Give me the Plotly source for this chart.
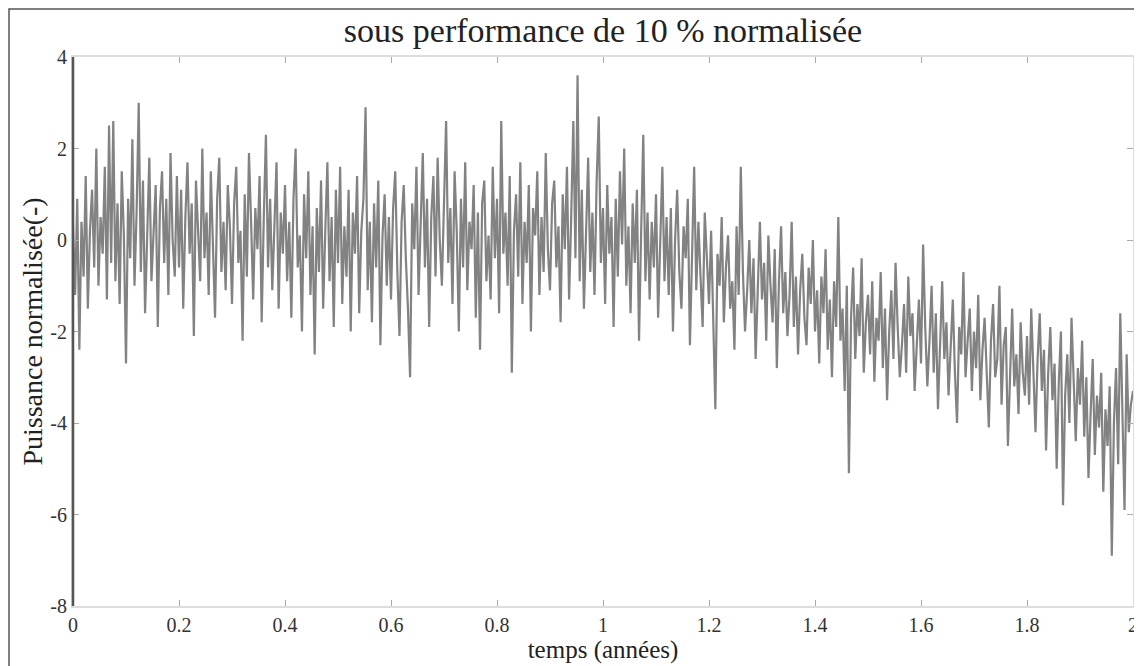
import numpy as np
import plotly.graph_objects as go

# Signal (normalised power), 25 samples per 0.1 year
values = [
    # 0.0 - 0.1
    0.3, -1.2, 0.9, -2.4, 0.4, -0.8, 1.4, -1.5, 0.2, 1.1, -0.6, 2.0, -1.0, 0.5, -0.3, 1.6, -1.3, 2.5, -0.5, 2.6, -0.9, 0.8, -1.4, 1.5, 0.1,
    # 0.1 - 0.2
    -2.7, 0.9, -0.4, 2.2, -1.0, 0.6, 3.0, -0.7, 1.3, -1.6, 0.4, 1.8, -0.9, 0.2, 1.2, -1.9, 0.7, 1.5, -0.5, 0.9, -1.2, 1.9, 0.0, -0.8, 1.4,
    # 0.2 - 0.3
    -0.6, 1.1, -1.5, 0.5, 1.7, -0.3, 0.8, -2.1, 1.3, 0.2, -0.9, 2.0, -0.4, 0.6, -1.2, 1.5, 0.1, -1.7, 0.9, 1.8, -0.7, 0.4, -1.1, 1.2, 0.3,
    # 0.3 - 0.4
    -1.4, 0.8, 1.6, -0.5, 0.2, -2.2, 1.0, -0.8, 1.9, 0.4, -1.3, 0.7, -0.2, 1.4, -1.8, 0.5, 2.3, -0.6, 0.9, -1.1, 0.3, 1.7, -1.5, 0.6, -0.3,
    # 0.4 - 0.5
    1.2, -0.9, 0.4, -1.7, 0.9, 2.0, -0.6, 0.1, -2.0, 1.0, -0.4, 1.5, -1.2, 0.3, -2.5, 0.7, -0.7, 1.3, -1.5, 0.2, 1.7, -0.9, 0.5, -1.9, 1.1,
    # 0.5 - 0.6
    -0.5, 1.6, -1.4, 0.3, -0.8, 1.1, -2.0, 0.6, -0.3, 1.4, -1.6, 0.2, 0.9, 2.9, -1.1, 0.4, -1.8, 0.8, -0.6, 1.3, -2.3, 0.1, 1.0, -1.0, 0.5,
    # 0.6 - 0.7
    -1.3, 0.7, 1.5, -0.7, -2.1, 0.4, 1.2, -0.4, -1.5, -3.0, 0.8, -0.2, 1.6, -1.2, 0.3, 1.9, -0.6, 0.9, -1.9, 0.5, 1.4, -0.8, 1.8, 0.0, -1.0,
    # 0.7 - 0.8
    1.1, 2.6, -0.5, 0.7, -1.4, 1.5, 0.2, -2.0, 0.9, -0.6, 1.7, -1.1, 0.4, -0.2, 1.2, -1.7, 0.6, -2.4, 0.8, 1.3, -0.9, 0.1, -1.3, 1.6, -0.4,
    # 0.8 - 0.9
    0.9, -1.6, 2.6, -0.3, 0.6, -1.0, 1.4, -2.9, 0.2, 1.0, -0.8, 1.7, -1.4, 0.4, -0.5, 1.2, -2.0, 0.7, 0.1, 1.5, -1.2, 0.5, -0.7, 1.9, -0.2,
    # 0.9 - 1.0
    -1.1, 0.8, 1.3, -0.6, 0.3, -1.8, 1.0, -0.2, 1.6, -1.3, 0.5, 2.6, -0.4, 3.6, -0.9, 1.1, -1.5, 0.4, 1.8, -0.7, 0.6, -1.2, 1.3, 2.7, -0.5,
    # 1.0 - 1.1
    0.7, -1.4, 1.2, -0.3, 0.5, -1.9, 0.9, -0.8, 1.5, -0.1, 2.0, -1.0, 0.3, -1.6, 0.8, -0.5, 1.1, -2.2, 0.2, 2.3, -0.9, 0.6, -1.3, 0.4, -0.6,
    # 1.1 - 1.2
    1.0, -1.7, 0.2, 1.6, -0.9, 0.5, -1.2, 0.7, -2.0, 0.0, 1.1, -0.7, -1.5, 0.3, -0.4, 0.9, -2.3, -0.2, 1.6, -1.1, 0.4, -0.8, -1.9, 0.6, -0.5,
    # 1.2 - 1.3
    -1.4, 0.2, -2.1, -3.7, -0.3, -1.0, 0.5, -1.8, -0.6, 0.1, -1.5, -0.9, -2.4, 0.3, -1.2, 1.6, -0.7, -2.0, -1.1, 0.0, -1.6, -0.4, -2.6, -0.8, 0.4,
    # 1.3 - 1.4
    -1.3, -0.5, -2.2, 0.1, -1.0, -1.8, -0.2, -2.8, -0.9, 0.3, -1.6, -0.7, -2.1, -1.2, 0.4, -1.9, -0.8, -2.5, -1.1, -0.3, -1.7, -2.3, -0.6, -1.4, 0.0,
    # 1.4 - 1.5
    -2.0, -1.1, -2.7, -0.8, -1.6, -0.2, -2.4, -1.3, -3.0, -0.9, -1.9, 0.5, -2.2, -1.5, -3.3, -1.0, -5.1, -1.7, -0.6, -2.6, -1.4, -2.1, -0.4, -2.9, -1.8,
    # 1.5 - 1.6
    -1.2, -2.5, -0.9, -3.1, -1.7, -2.2, -0.7, -2.8, -1.5, -3.5, -2.0, -1.1, -2.6, -0.5, -1.9, -3.0, -2.3, -1.4, -2.9, -0.8, -2.1, -1.6, -3.3, -2.4, -1.3,
    # 1.6 - 1.7
    -2.7, -0.1, -1.9, -3.2, -2.2, -1.0, -2.9, -1.6, -3.7, -2.1, -0.9, -2.6, -1.8, -3.4, -2.4, -1.3, -2.9, -4.0, -1.9, -2.5, -0.7, -3.0, -2.2, -1.5, -3.3,
    # 1.7 - 1.8
    -2.0, -2.8, -1.2, -3.5, -2.4, -1.7, -3.1, -4.1, -2.2, -1.4, -3.0, -2.6, -1.0, -3.6, -2.3, -1.9, -4.5, -2.8, -1.5, -3.2, -2.5, -3.8, -1.8, -2.9, -3.4,
    # 1.8 - 1.9
    -2.1, -3.6, -1.5, -3.0, -4.2, -2.6, -1.6, -3.3, -2.4, -4.6, -2.9, -1.9, -3.5, -2.7, -5.0, -3.1, -2.0, -5.8, -3.4, -2.5, -4.0, -1.7, -3.2, -4.4, -2.8,
    # 1.9 - 2.0
    -3.6, -2.2, -4.3, -3.0, -5.2, -3.8, -2.6, -4.7, -3.4, -4.1, -2.9, -5.5, -3.7, -4.5, -3.2, -6.9, -4.0, -2.8, -4.9, -1.6, -3.5, -5.9, -2.5, -4.2, -3.6,
    -3.3,
]
t_start, t_end = 0.0, 2.0
time = np.linspace(t_start, t_end, len(values))

x_ticks = [0, 0.2, 0.4, 0.6, 0.8, 1.0, 1.2, 1.4, 1.6, 1.8, 2.0]
x_ticktext = ["0", "0.2", "0.4", "0.6", "0.8", "1", "1.2", "1.4", "1.6", "1.8", "2"]
y_ticks = [-8, -6, -4, -2, 0, 2, 4]
y_ticktext = ["-8", "-6", "-4", "-2", "0", "2", "4"]

title_text = "sous performance de 10 % normalisée"
x_label = "temps (années)"
y_label = "Puissance normalisée(-)"

FONT = "Liberation Serif"

fig = go.Figure()
fig.add_trace(go.Scatter(
    x=time, y=values, mode="lines",
    line=dict(color="#828282", width=2.2),
    showlegend=False, hoverinfo="skip",
))

# the page body adds an 8 px offset, so the figure is sized to fit the window
W, H = 1134, 658
ml, mr, mt, mb = 65, 9, 49, 60
pw, ph = W - ml - mr, H - mt - mb

fig.update_layout(
    width=W, height=H,
    margin=dict(l=ml, r=mr, t=mt, b=mb, autoexpand=False),
    paper_bgcolor="white", plot_bgcolor="white",
    font=dict(family=FONT, color="#222"),
    title=dict(text=title_text, x=0.5, xref="paper", y=1 - 22 / H, yref="container",
               xanchor="center", yanchor="middle", font=dict(size=34, family=FONT, color="#222")),
    xaxis=dict(range=[0, 2], tickvals=x_ticks, ticktext=x_ticktext,
               ticks="inside", ticklen=6, tickcolor="#aaa", tickwidth=1,
               showline=True, linecolor="#ddd", linewidth=2, mirror="ticks",
               showgrid=False, zeroline=False, automargin=False,
               tickfont=dict(size=20, family=FONT, color="#333"),
               title=dict(text=x_label, font=dict(size=25, family=FONT, color="#222"), standoff=0)),
    yaxis=dict(range=[-8, 4], tickvals=y_ticks, ticktext=y_ticktext,
               ticks="inside", ticklen=6, tickcolor="#aaa", tickwidth=1,
               showline=True, linecolor="#ddd", linewidth=2, mirror="ticks",
               showgrid=False, zeroline=False, automargin=False,
               tickfont=dict(size=20, family=FONT, color="#333"),
               title=dict(text=y_label, font=dict(size=28, family=FONT, color="#222"), standoff=0)),
    shapes=[
        dict(type="line", xref="paper", yref="paper", x0=0, x1=0, y0=0, y1=1,
             line=dict(color="#555", width=2.5)),
        dict(type="rect", xref="paper", yref="paper",
             x0=(1 - ml) / pw, x1=(1132 - ml) / pw,
             y0=-(mb + 20) / ph, y1=1 + (mt - 1) / ph,
             line=dict(color="#555", width=1.5), layer="below"),
    ],
)

fig.write_html("out.html")
